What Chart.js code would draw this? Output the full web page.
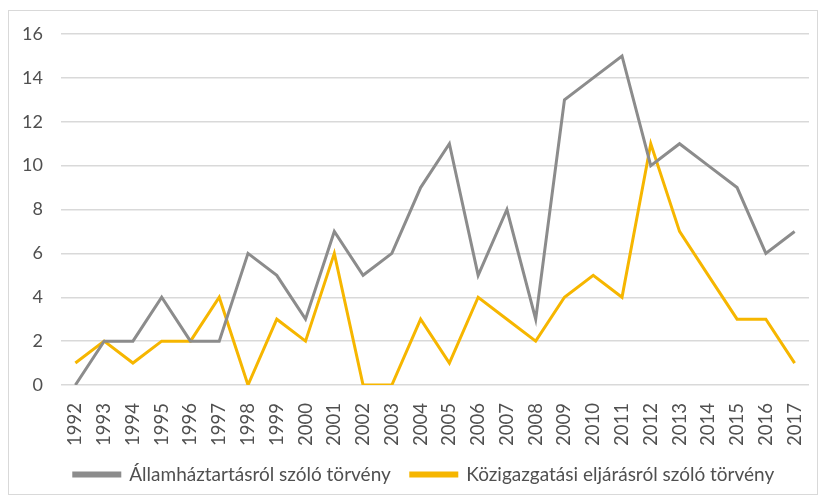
<!DOCTYPE html>
<html>
<head>
<meta charset="utf-8">
<script src="https://cdn.jsdelivr.net/npm/chart.js@4/dist/chart.umd.min.js"></script>
<style>
  body { margin: 0; background: #ffffff; }
  #frame {
    position: absolute; left: 8px; top: 10px;
    width: 808px; height: 483px;
    border: 1px solid #d9d9d9; background: #fff;
  }
  canvas { display: block; }
</style>
</head>
<body>
<div id="frame"><canvas id="chart" width="808" height="483"></canvas></div>
<script>
// évek
const years = ['1992','1993','1994','1995','1996','1997','1998','1999','2000','2001','2002','2003','2004',
  '2005','2006','2007','2008','2009','2010','2011','2012','2013','2014','2015','2016','2017'];
// Államháztartásról szóló törvény
const allamhaztartas = [0, 2, 2, 4, 2, 2, 6, 5, 3, 7, 5, 6, 9, 11, 5, 8, 3, 13, 14, 15, 10, 11, 10, 9, 6, 7];
// Közigazgatási eljárásról szóló törvény
const kozigazgatasi = [1, 2, 1, 2, 2, 4, 0, 3, 2, 6, 0, 0, 3, 1, 4, 3, 2, 4, 5, 4, 11, 7, 5, 3, 3, 1];
const yTicks = [0, 2, 4, 6, 8, 10, 12, 14, 16];

const FONT = 'Lato, Carlito, "Open Sans", sans-serif';
const TEXT = '#505050';

// the legend in the original sits a bit right of centre
const legendShift = {
  id: 'legendShift',
  afterLayout(chart) {
    chart.legend.left += 15;
    chart.legend.right += 15;
  }
};

new Chart(document.getElementById('chart'), {
  type: 'line',
  data: {
    labels: years,
    datasets: [
      {
        label: 'Államháztartásról szóló törvény',
        data: allamhaztartas,
        borderColor: '#8c8c8c',
        backgroundColor: '#8c8c8c',
        borderWidth: 3,
        pointRadius: 0,
        tension: 0
      },
      {
        label: 'Közigazgatási eljárásról szóló törvény',
        data: kozigazgatasi,
        borderColor: '#f6b600',
        backgroundColor: '#f6b600',
        borderWidth: 3,
        pointRadius: 0,
        tension: 0
      }
    ]
  },
  plugins: [legendShift],
  options: {
    responsive: false,
    animation: false,
    layout: { padding: { top: 23, right: 8, bottom: 0, left: 0 } },
    plugins: {
      tooltip: { enabled: false },
      legend: {
        position: 'bottom',
        labels: {
          color: TEXT,
          font: { family: FONT, size: 19 },
          boxWidth: 46,
          boxHeight: 3,
          padding: 20
        }
      }
    },
    scales: {
      x: {
        offset: true,
        afterFit: scale => {
          scale.height = 60;
          scale.paddingLeft = 0;
          scale.paddingRight = 0;
        },
        grid: { display: false },
        border: { display: false },
        ticks: {
          color: TEXT,
          font: { family: FONT, size: 18.5 },
          minRotation: 90,
          maxRotation: 90,
          autoSkip: false,
          padding: 10
        }
      },
      y: {
        min: 0,
        max: 16,
        afterFit: scale => {
          scale.width = 52;
          scale.paddingTop = 0;
          scale.paddingBottom = 0;
        },
        afterBuildTicks: scale => { scale.ticks = yTicks.map(v => ({ value: v })); },
        grid: { color: '#d9d9d9', lineWidth: 1.5, drawTicks: false },
        border: { display: false },
        ticks: {
          color: TEXT,
          font: { family: FONT, size: 18 },
          padding: 18
        }
      }
    }
  }
});
</script>
</body>
</html>
